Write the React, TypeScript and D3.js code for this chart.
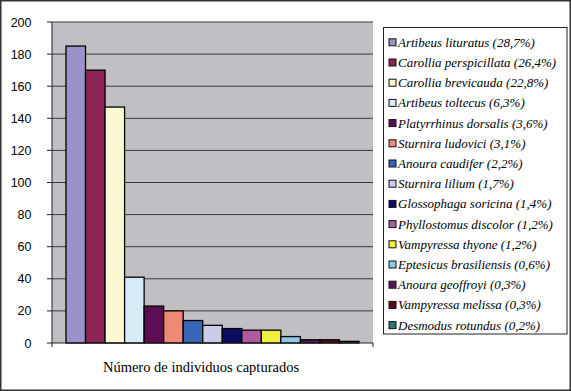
import React from "react";
import * as d3 from "d3";

const species = [
  "Artibeus lituratus (28,7%)",
  "Carollia perspicillata (26,4%)",
  "Carollia brevicauda (22,8%)",
  "Artibeus toltecus (6,3%)",
  "Platyrrhinus dorsalis (3,6%)",
  "Sturnira ludovici (3,1%)",
  "Anoura caudifer (2,2%)",
  "Sturnira lilium (1,7%)",
  "Glossophaga soricina (1,4%)",
  "Phyllostomus discolor (1,2%)",
  "Vampyressa thyone (1,2%)",
  "Eptesicus brasiliensis (0,6%)",
  "Anoura geoffroyi (0,3%)",
  "Vampyressa melissa (0,3%)",
  "Desmodus rotundus (0,2%)",
];
const counts = [185, 170, 147, 41, 23, 20, 14, 11, 9, 8, 8, 4, 2, 2, 1];
const colors = [
  "#9a92c9", "#8f2557", "#fbf9d3", "#d4ecf6", "#5c0c50",
  "#f08878", "#3566b8", "#cccbe8", "#0c0c60", "#b05aa0",
  "#f2ee3c", "#8ec8ea", "#5b1659", "#5a0a14", "#2a7870",
];
const yTicks = [0, 20, 40, 60, 80, 100, 120, 140, 160, 180, 200];
const xTitle = "Número de individuos capturados";

const W = 571, H = 391;
const plot = { left: 52, right: 373, top: 22, bottom: 343 };
const SANS = "'Liberation Sans', Arial, sans-serif";
const SERIF = "'Liberation Serif', 'Times New Roman', serif";

export default function App() {
  const x = d3
    .scaleBand<string>()
    .domain(species)
    .range([plot.left, plot.right])
    .paddingInner(0)
    .paddingOuter(0.716);
  const y = d3.scaleLinear().domain([0, 200]).range([plot.bottom, plot.top]);

  const legendTop = 42.3;
  const legendStep = 20.2;

  return (
    <div style={{ position: "fixed", left: 0, top: 0 }}>
      <svg width={W} height={H} style={{ display: "block", background: "#fff" }}>
        <rect x={0.75} y={0.75} width={W - 1.5} height={H - 1.5} fill="#fff" stroke="#333" strokeWidth={1.5} />
        <rect
          x={plot.left}
          y={plot.top}
          width={plot.right - plot.left}
          height={plot.bottom - plot.top}
          fill="#c0c0c4"
        />
        {yTicks.map((t) => (
          <g key={t}>
            {t > 0 && (
              <line x1={plot.left} x2={plot.right} y1={y(t)} y2={y(t)} stroke="#3a3a3a" strokeWidth={1} />
            )}
            <line x1={plot.left - 5} x2={plot.left} y1={y(t)} y2={y(t)} stroke="#222" strokeWidth={1} />
            <text
              x={31.5}
              y={y(t) + 4.5}
              textAnchor="end"
              fontFamily={SANS}
              fontSize={12.5}
              fill="#000"
            >
              {t}
            </text>
          </g>
        ))}
        {species.map((s, i) => (
          <rect
            key={s}
            x={x(s)}
            y={y(counts[i])}
            width={x.bandwidth()}
            height={y(0) - y(counts[i])}
            fill={colors[i]}
            stroke="#000"
            strokeWidth={1.3}
          />
        ))}
        <line x1={plot.left} x2={plot.left} y1={plot.top} y2={plot.bottom + 4} stroke="#222" strokeWidth={1} />
        <line x1={plot.left} x2={plot.right} y1={plot.bottom} y2={plot.bottom} stroke="#222" strokeWidth={1} />
        <line x1={plot.right} x2={plot.right} y1={plot.bottom} y2={plot.bottom + 4} stroke="#222" strokeWidth={1} />
        <text
          x={201}
          y={372}
          textAnchor="middle"
          fontFamily={SERIF}
          fontSize={14.5}
          fill="#000"
        >
          {xTitle}
        </text>
        <rect x={383.5} y={27.5} width={183.5} height={306.5} fill="#fff" stroke="#222" strokeWidth={1} />
        {species.map((s, i) => {
          const cy = legendTop + i * legendStep;
          return (
            <g key={s}>
              <rect x={389} y={cy - 3.5} width={7} height={7} fill={colors[i]} stroke="#111" strokeWidth={1} />
              <text
                x={398}
                y={cy + 4.5}
                fontFamily={SERIF}
                fontStyle="italic"
                fontSize={13}
                fill="#000"
              >
                {s}
              </text>
            </g>
          );
        })}
      </svg>
    </div>
  );
}
